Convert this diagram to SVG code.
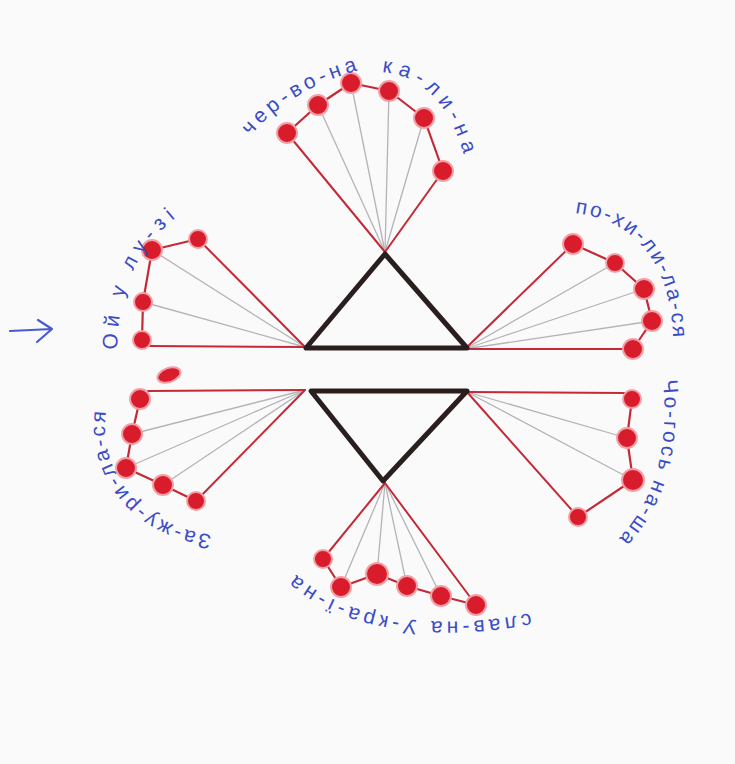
<svg xmlns="http://www.w3.org/2000/svg" width="735" height="764" viewBox="0 0 735 764">
<defs>
<style>
.red{stroke:#c42a36;stroke-width:2;fill:none;stroke-linecap:round}
.grey{stroke:#b4b4b8;stroke-width:1.3;fill:none}
.chain{stroke:#c42a36;stroke-width:2.2;fill:none;stroke-linejoin:round}
.dot{fill:#d81c2c;stroke:#f2a0a6;stroke-width:2}
.tri{stroke:#2a1e1e;stroke-width:5;fill:none;stroke-linejoin:round;stroke-linecap:round}
.lbl{font-family:"Liberation Sans","DejaVu Sans",sans-serif;font-size:21px;fill:#3b4cc8}
.arrow{stroke:#4a5ad0;stroke-width:2.2;fill:none;stroke-linecap:round;stroke-linejoin:round}
</style>
<path id="pTop1" d="M 250 136 Q 292 88 360 70"/>
<path id="pTop2" d="M 382 72 Q 445 78 466 163"/>
<path id="pUL" d="M 117 350 C 118 290 135 245 190 207"/>
<path id="pUR" d="M 575 213 C 648 222 680 282 672 372"/>
<path id="pLR" d="M 663 380 C 668 440 662 505 600 556"/>
<path id="pB" d="M 530 613 C 450 630 340 625 288 566"/>
<path id="pLL" d="M 212 535 C 118 522 80 440 122 362"/>
</defs>
<rect width="735" height="764" fill="#fafafb"/>

<g id="connectors">
<!-- top fan -->
<line class="grey" x1="385" y1="252" x2="318" y2="105"/>
<line class="grey" x1="385" y1="252" x2="351" y2="83"/>
<line class="grey" x1="385" y1="252" x2="389" y2="91"/>
<line class="grey" x1="385" y1="252" x2="424" y2="118"/>
<line class="red" x1="385" y1="252" x2="287" y2="133"/>
<line class="red" x1="385" y1="252" x2="443" y2="171"/>
<!-- upper left fan -->
<line class="grey" x1="305" y1="347" x2="152" y2="250"/>
<line class="grey" x1="305" y1="347" x2="143" y2="302"/>
<line class="red" x1="305" y1="347" x2="198" y2="239"/>
<line class="red" x1="305" y1="347" x2="148" y2="346"/>
<!-- upper right fan -->
<line class="grey" x1="465" y1="349" x2="615" y2="263"/>
<line class="grey" x1="465" y1="349" x2="644" y2="289"/>
<line class="grey" x1="465" y1="349" x2="652" y2="321"/>
<line class="red" x1="465" y1="349" x2="573" y2="244"/>
<line class="red" x1="465" y1="349" x2="626" y2="349"/>
<!-- lower left fan -->
<line class="grey" x1="305" y1="390" x2="132" y2="434"/>
<line class="grey" x1="305" y1="390" x2="126" y2="468"/>
<line class="grey" x1="305" y1="390" x2="163" y2="485"/>
<line class="red" x1="305" y1="390" x2="148" y2="391"/>
<line class="red" x1="305" y1="390" x2="196" y2="501"/>
<!-- lower right fan -->
<line class="grey" x1="467" y1="392" x2="627" y2="438"/>
<line class="grey" x1="467" y1="392" x2="633" y2="480"/>
<line class="red" x1="467" y1="392" x2="625" y2="393"/>
<line class="red" x1="467" y1="392" x2="578" y2="517"/>
<!-- bottom fan -->
<line class="grey" x1="385" y1="483" x2="341" y2="587"/>
<line class="grey" x1="385" y1="483" x2="377" y2="574"/>
<line class="grey" x1="385" y1="483" x2="407" y2="586"/>
<line class="grey" x1="385" y1="483" x2="441" y2="596"/>
<line class="red" x1="385" y1="483" x2="323" y2="559"/>
<line class="red" x1="385" y1="483" x2="476" y2="605"/>
<!-- arrow -->
<path class="arrow" d="M 10 331 L 52 329 M 38 320 L 52 329 L 37 342"/>
</g>

<g id="triangle-top"><polygon class="tri" points="385,254 306,348 467,348"/></g>
<g id="triangle-bottom"><polygon class="tri" points="311,391 467,391 383,481"/></g>

<g id="fan-top">
<polyline class="chain" points="287,133 318,105 351,83 389,91 424,118 443,171"/>
<circle class="dot" cx="287" cy="133" r="10"/>
<circle class="dot" cx="318" cy="105" r="10"/>
<circle class="dot" cx="351" cy="83" r="10"/>
<circle class="dot" cx="389" cy="91" r="10"/>
<circle class="dot" cx="424" cy="118" r="10"/>
<circle class="dot" cx="443" cy="171" r="10"/>
<text class="lbl"><textPath href="#pTop1" textLength="128" lengthAdjust="spacing">чер-во-на</textPath></text>
<text class="lbl"><textPath href="#pTop2" textLength="124" lengthAdjust="spacing">ка-ли-на</textPath></text>
</g>

<g id="fan-upper-left">
<polyline class="chain" points="198,239 152,250 143,302 142,340"/>
<circle class="dot" cx="198" cy="239" r="9"/>
<circle class="dot" cx="152" cy="250" r="10"/>
<circle class="dot" cx="143" cy="302" r="9"/>
<circle class="dot" cx="142" cy="340" r="9"/>
<text class="lbl"><textPath href="#pUL" textLength="150" lengthAdjust="spacing">Ой у лу-зі</textPath></text>
</g>

<g id="fan-upper-right">
<polyline class="chain" points="573,244 615,263 644,289 652,321 633,349"/>
<circle class="dot" cx="573" cy="244" r="10"/>
<circle class="dot" cx="615" cy="263" r="9"/>
<circle class="dot" cx="644" cy="289" r="10"/>
<circle class="dot" cx="652" cy="321" r="10"/>
<circle class="dot" cx="633" cy="349" r="10"/>
<text class="lbl"><textPath href="#pUR" textLength="175" lengthAdjust="spacing">по-хи-ли-ла-ся</textPath></text>
</g>

<g id="fan-lower-left">
<ellipse class="dot" cx="169" cy="375" rx="12" ry="7" transform="rotate(-20 169 375)"/>
<polyline class="chain" points="140,399 132,434 126,468 163,485 196,501"/>
<circle class="dot" cx="140" cy="399" r="10"/>
<circle class="dot" cx="132" cy="434" r="10"/>
<circle class="dot" cx="126" cy="468" r="10"/>
<circle class="dot" cx="163" cy="485" r="10"/>
<circle class="dot" cx="196" cy="501" r="9"/>
<text class="lbl"><textPath href="#pLL" textLength="182" lengthAdjust="spacing">За-жу-ри-ла-ся</textPath></text>
</g>

<g id="fan-lower-right">
<polyline class="chain" points="632,399 627,438 633,480 578,517"/>
<circle class="dot" cx="632" cy="399" r="9"/>
<circle class="dot" cx="627" cy="438" r="10"/>
<circle class="dot" cx="633" cy="480" r="11"/>
<circle class="dot" cx="578" cy="517" r="9"/>
<text class="lbl"><textPath href="#pLR" textLength="170" lengthAdjust="spacing">Чо-гось на-ша</textPath></text>
</g>

<g id="fan-bottom">
<polyline class="chain" points="323,559 341,587 377,574 407,586 441,596 476,605"/>
<circle class="dot" cx="323" cy="559" r="9"/>
<circle class="dot" cx="341" cy="587" r="10"/>
<circle class="dot" cx="377" cy="574" r="11"/>
<circle class="dot" cx="407" cy="586" r="10"/>
<circle class="dot" cx="441" cy="596" r="10"/>
<circle class="dot" cx="476" cy="605" r="10"/>
<text class="lbl"><textPath href="#pB" textLength="245" lengthAdjust="spacing">слав-на У-кра-ї-на</textPath></text>
</g>
</svg>
